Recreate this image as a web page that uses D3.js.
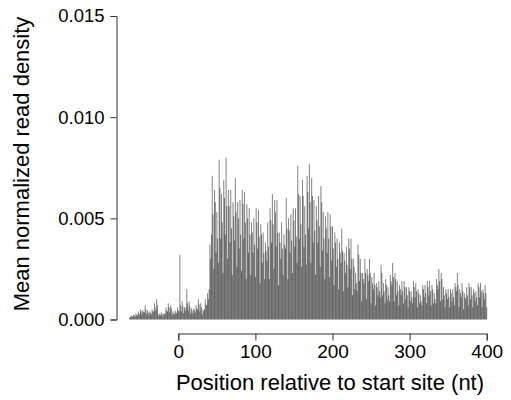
<!DOCTYPE html>
<html>
<head>
<meta charset="utf-8">
<script src="https://cdn.jsdelivr.net/npm/d3@7"></script>
<style>
  body { margin: 0; background: #fff; }
  text { font-family: "Liberation Sans", Arial, sans-serif; fill: #000; }
</style>
</head>
<body>
<div id="chart"></div>
<script>
// nt positions -63 .. 400, one value per nt (read density, in units of 1e-5)
var firstPos = -63, lastPos = 400
var density = [
  10,
  12, 20, 15,   14, 25, 20,   15, 30, 22,   20, 40, 30,   25, 50, 40,   25, 45, 38,
  35, 70, 50,   25, 45, 35,   20, 40, 32,   25, 50, 40,   40, 80, 60,   45, 100, 70,
  18, 30, 25,   20, 35, 28,   15, 30, 25,   30, 60, 45,   40, 80, 60,   35, 70, 55,
  22, 40, 30,   25, 45, 35,   30, 60, 45,
  40, 320, 70,  40, 90, 65,   30, 60, 45,   60, 150, 80,  45, 90, 65,   30, 55, 45,
  30, 55, 45,   35, 70, 55,   50, 100, 75,  40, 80, 60,   25, 50, 40,   50, 100, 75,
  70, 130, 100, 150, 370, 300,
  420, 710, 520, 250, 640, 580, 330, 530, 400, 280, 790, 650, 400, 620, 480, 230, 690, 600,
  420, 800, 560, 300, 640, 560, 380, 640, 450, 220, 580, 510, 390, 700, 530, 260, 580, 500,
  350, 590, 420, 240, 640, 570, 400, 630, 480, 200, 570, 500, 330, 550, 420, 220, 480, 430,
  330, 500, 370, 210, 550, 480, 350, 540, 410, 180, 470, 420, 280, 430, 330, 200, 380, 340,
  290, 480, 360, 200, 550, 490, 380, 620, 470, 250, 590, 530, 360, 590, 430, 170, 430, 380,
  300, 480, 350, 220, 420, 370, 350, 600, 450, 200, 500, 440, 330, 520, 390, 230, 550, 490,
  360, 550, 410, 280, 760, 620, 400, 610, 470, 260, 690, 610, 360, 560, 420, 270, 710, 630,
  450, 770, 580, 280, 700, 610, 380, 590, 440, 220, 560, 490, 380, 610, 460, 260, 660, 580,
  340, 530, 400, 200, 510, 450, 330, 530, 400, 210, 520, 460, 290, 460, 350, 170, 430, 380,
  260, 400, 300, 150, 380, 330, 280, 450, 340, 140, 330, 290, 230, 360, 270, 160, 400, 350,
  250, 400, 300, 120, 300, 260, 150, 230, 180, 140, 370, 320, 190, 300, 230, 90, 230, 200,
  180, 300, 230, 100, 250, 220, 190, 300, 230, 80, 210, 180,  150, 230, 170, 70, 180, 160,
  120, 190, 140, 110, 270, 230, 120, 180, 140, 80, 200, 170,  100, 160, 120, 90, 220, 190,
  170, 280, 210, 90, 230, 200,  120, 190, 140, 70, 170, 150,  120, 190, 140, 80, 190, 160,
  100, 160, 120, 60, 160, 140,  90, 140, 110,  80, 190, 160,  110, 180, 140, 60, 150, 130,
  80, 120, 90,   70, 170, 150,  110, 170, 130, 80, 190, 160,  120, 190, 140, 70, 170, 150,
  80, 130, 100,  80, 200, 170,  150, 250, 190, 90, 230, 200,  100, 160, 120, 60, 150, 130,
  100, 150, 110, 60, 150, 130,  90, 150, 110,  70, 180, 160,  140, 230, 170, 60, 150, 130,
  110, 180, 140, 50, 130, 110,  100, 160, 120, 70, 180, 160,  100, 160, 120, 60, 150, 130,
  90, 140, 110,  70, 180, 160,  110, 180, 140, 60, 150, 130,  100, 170, 130,
  60
]
var xTicks = [0, 100, 200, 300, 400]
var yTicks = [0, 0.005, 0.010, 0.015]

var width = 511, height = 400

var data = density.map((v, i) => ({ pos: firstPos + i, value: v / 1e5 }))

var svg = d3.select('#chart').append('svg').attr('width', width).attr('height', height)

var x = d3.scaleLinear().domain([0, 400]).range([178.3, 486.7])
var y = d3.scaleLinear().domain([0, 0.015]).range([319.5, 16])

// vertical lines (type = "h")
svg.append('g')
  .selectAll('line')
  .data(data)
  .enter().append('line')
  .attr('x1', d => x(d.pos)).attr('x2', d => x(d.pos))
  .attr('y1', y(0)).attr('y2', d => y(d.value))
  .attr('stroke', '#000')
  .attr('stroke-width', 0.5)

// x axis
var xAxis = d3.axisBottom(x).tickValues(xTicks).tickSize(7).tickPadding(4).tickFormat(d3.format('d'))
var gx = svg.append('g').attr('transform', 'translate(0,333.5)').call(xAxis)
gx.select('.domain').attr('stroke', '#333')
gx.selectAll('.tick line').attr('stroke', '#333')
gx.selectAll('.tick text').attr('font-size', 19).attr('font-family', '"Liberation Sans", Arial, sans-serif')

// y axis
var yAxis = d3.axisLeft(y).tickValues(yTicks).tickSize(6).tickPadding(6).tickFormat(d3.format('.3f'))
var gy = svg.append('g').attr('transform', 'translate(116.5,0)').call(yAxis)
gy.select('.domain').attr('stroke', '#333')
gy.selectAll('.tick line').attr('stroke', '#333')
gy.selectAll('.tick text').attr('font-size', 18.5).attr('font-family', '"Liberation Sans", Arial, sans-serif')

// titles
svg.append('text')
  .attr('x', 330).attr('y', 390)
  .attr('text-anchor', 'middle')
  .attr('font-size', 22)
  .text('Position relative to start site (nt)')

svg.append('text')
  .attr('transform', 'translate(29,164) rotate(-90)')
  .attr('text-anchor', 'middle')
  .attr('font-size', 22)
  .text('Mean normalized read density')
</script>
</body>
</html>
